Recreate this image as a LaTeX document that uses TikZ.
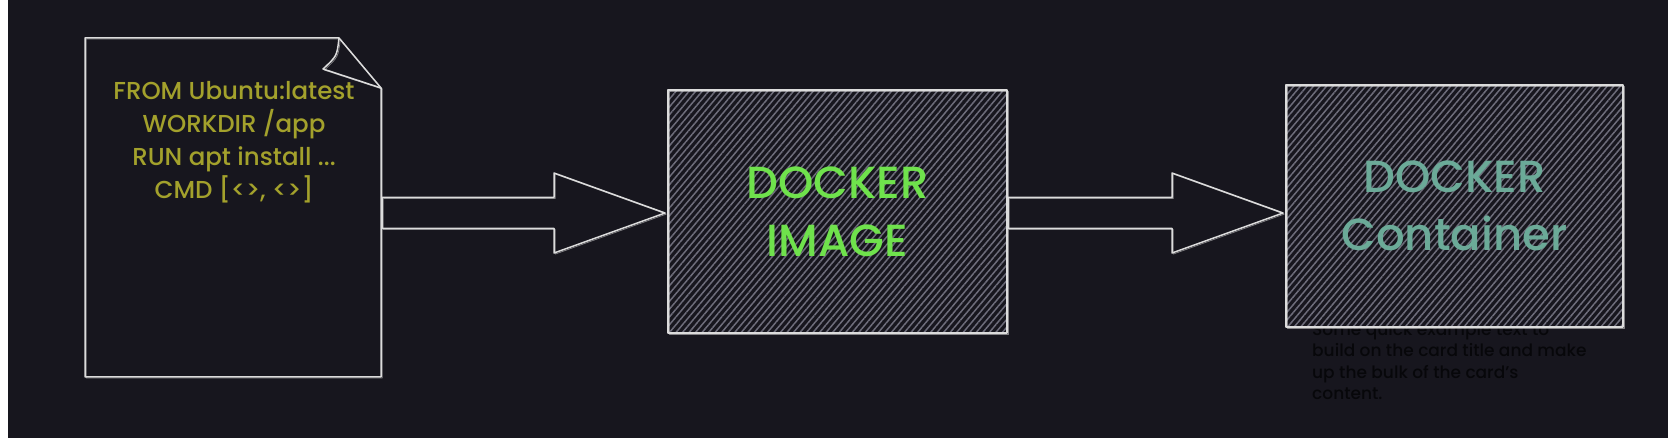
\documentclass[tikz,border=0pt]{standalone}
\usepackage{fontspec}
\setmainfont{Poppins}[UprightFont=* Medium]
\usetikzlibrary{calc,patterns.meta}
\definecolor{bg}{HTML}{17161E}
\definecolor{ink}{HTML}{DCDCDC}
\definecolor{hatch}{HTML}{6E6D7B}
\definecolor{olive}{HTML}{A3A12C}
\definecolor{lime}{HTML}{6FE24C}
\definecolor{tealtxt}{HTML}{6BAA98}
\definecolor{faint}{HTML}{07070A}
\newcommand\blockarrow[3]{%
  \draw[outline,sketchy] let \p1=(#1.east), \p2=(#2.west) in
    (\x1+1,#3+15.5) -- (\x2-114,#3+15.5) -- (\x2-114,#3+40) -- (\x2-3,#3)
    -- (\x2-114,#3-40) -- (\x2-114,#3-15.5) -- (\x1+1,#3-15.5) -- cycle;}
\begin{document}
\begin{tikzpicture}[x=1pt,y=1pt,
  outline/.style={draw=ink,line width=1.5pt,line join=round},
  sketchy/.style={postaction={draw=ink,line width=0.7pt,draw opacity=0.55,
    transform canvas={shift={(1.3pt,-1.1pt)}}}},
  card/.style={outline,preaction={fill=bg},
    pattern={Lines[angle=50,distance=5pt,line width=1.5pt]},pattern color=hatch,
    inner sep=0pt,outer sep=0pt,align=center},
  bigtext/.style={font=\fontsize{45}{58}\selectfont}
]
\useasboundingbox (0,0) rectangle (1668,438);
\fill[white] (0,0) rectangle (8,438);
\fill[bg] (8,0) rectangle (1668,438);

% Dockerfile page
\node[minimum width=296pt,minimum height=339pt,inner sep=0pt,outer sep=0pt] (doc) at (233,230.5) {};
\draw[outline,sketchy] (doc.south west) -- (doc.north west) -- ($(doc.north east)+(-42,0)$)
  -- ($(doc.north east)+(0,-50)$) -- (doc.south east) -- cycle;
\draw[outline,sketchy] ($(doc.north east)+(-42,0)$) .. controls ($(doc.north east)+(-44,-18)$) .. ($(doc.north east)+(-58,-31)$)
  -- ($(doc.north east)+(0,-50)$);
\node[text=olive,align=center,font=\fontsize{24.5}{33}\selectfont] (code) at (234,296)
  {FROM Ubuntu:latest\\WORKDIR /app\\RUN apt install ...\\CMD [<>, <>]};

% Docker image
\node[card,sketchy,minimum width=339pt,minimum height=243pt] (img) at (837.5,226.5) {};
\node[bigtext,text=lime,align=center] (imgtxt) at (img.center) {DOCKER\\IMAGE};

% faint description text (under the container card)
\node[anchor=north west,text=faint,align=left,inner sep=0pt,
  font=\fontsize{17}{21.5}\selectfont] (desc) at (1312,116)
  {Some quick example text to\\build on the card title and make\\up the bulk of the card's\\content.};

% Docker container
\node[card,sketchy,minimum width=337pt,minimum height=242pt] (cont) at (1454.5,232) {};
\node[bigtext,text=tealtxt,align=center] (conttxt) at (cont.center) {DOCKER\\Container};

% block arrows
\blockarrow{doc}{img}{225}
\blockarrow{img}{cont}{225}
\end{tikzpicture}
\end{document}
